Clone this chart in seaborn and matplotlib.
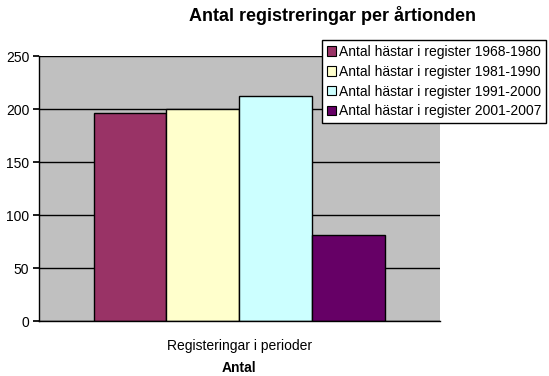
import pandas as pd
import matplotlib.pyplot as plt
import seaborn as sns

# Data
category = ["Registeringar i perioder"]
series = [
    "Antal hästar i register 1968-1980",
    "Antal hästar i register 1981-1990",
    "Antal hästar i register 1991-2000",
    "Antal hästar i register 2001-2007",
]
values = [196, 200, 212, 81]
colors = ["#993366", "#FFFFCC", "#CCFFFF", "#660066"]

df = pd.DataFrame({
    "Period": category * len(series),
    "Serie": series,
    "Antal": values,
})

sns.set_theme(style="white")
plt.rcParams['font.family'] = ['Liberation Sans', 'DejaVu Sans']
plt.rcParams['text.color'] = 'black'
plt.rcParams['xtick.color'] = 'black'
plt.rcParams['ytick.color'] = 'black'
plt.rcParams['axes.labelcolor'] = 'black'

fig = plt.figure(figsize=(5.49, 3.76), dpi=100)
ax = fig.add_axes([0.071, 0.146, 0.730, 0.705])
ax.set_facecolor("#C0C0C0")

sns.barplot(
    data=df, x="Period", y="Antal", hue="Serie",
    palette=dict(zip(series, colors)), width=0.8,
    edgecolor="black", linewidth=1, saturation=1, ax=ax,
)

ax.set_xlim(-0.55, 0.55)
ax.set_ylim(0, 250)
ax.set_yticks([0, 50, 100, 150, 200, 250])
ax.yaxis.grid(True, color="black", linewidth=1)
ax.set_axisbelow(True)
for s in ["top", "right"]:
    ax.spines[s].set_visible(False)
for s in ["left", "bottom"]:
    ax.spines[s].set_color("black")
    ax.spines[s].set_linewidth(1)
ax.tick_params(axis="y", left=True, length=4, labelsize=10, pad=3)
ax.tick_params(axis="x", bottom=False, labelsize=10, pad=7)
ax.set_xlabel("Antal", fontsize=10, fontweight="bold", labelpad=6)
ax.set_ylabel("")

fig.text(0.605, 0.958, "Antal registreringar per årtionden", ha="center", va="center",
         fontsize=13, fontweight="bold")

leg = ax.legend(loc="upper left", bbox_to_anchor=(0.706, 1.06), fontsize=10,
                frameon=True, fancybox=False, shadow=False, handlelength=0.65,
                handleheight=0.65, handletextpad=0.2, labelspacing=0.42,
                borderpad=0.35, borderaxespad=0, framealpha=1)
leg.get_frame().set_edgecolor("black")
leg.get_frame().set_linewidth(1)
for h in leg.legend_handles:
    h.set_edgecolor("black")
    h.set_linewidth(0.8)

fig.savefig("out.png", dpi=100)
